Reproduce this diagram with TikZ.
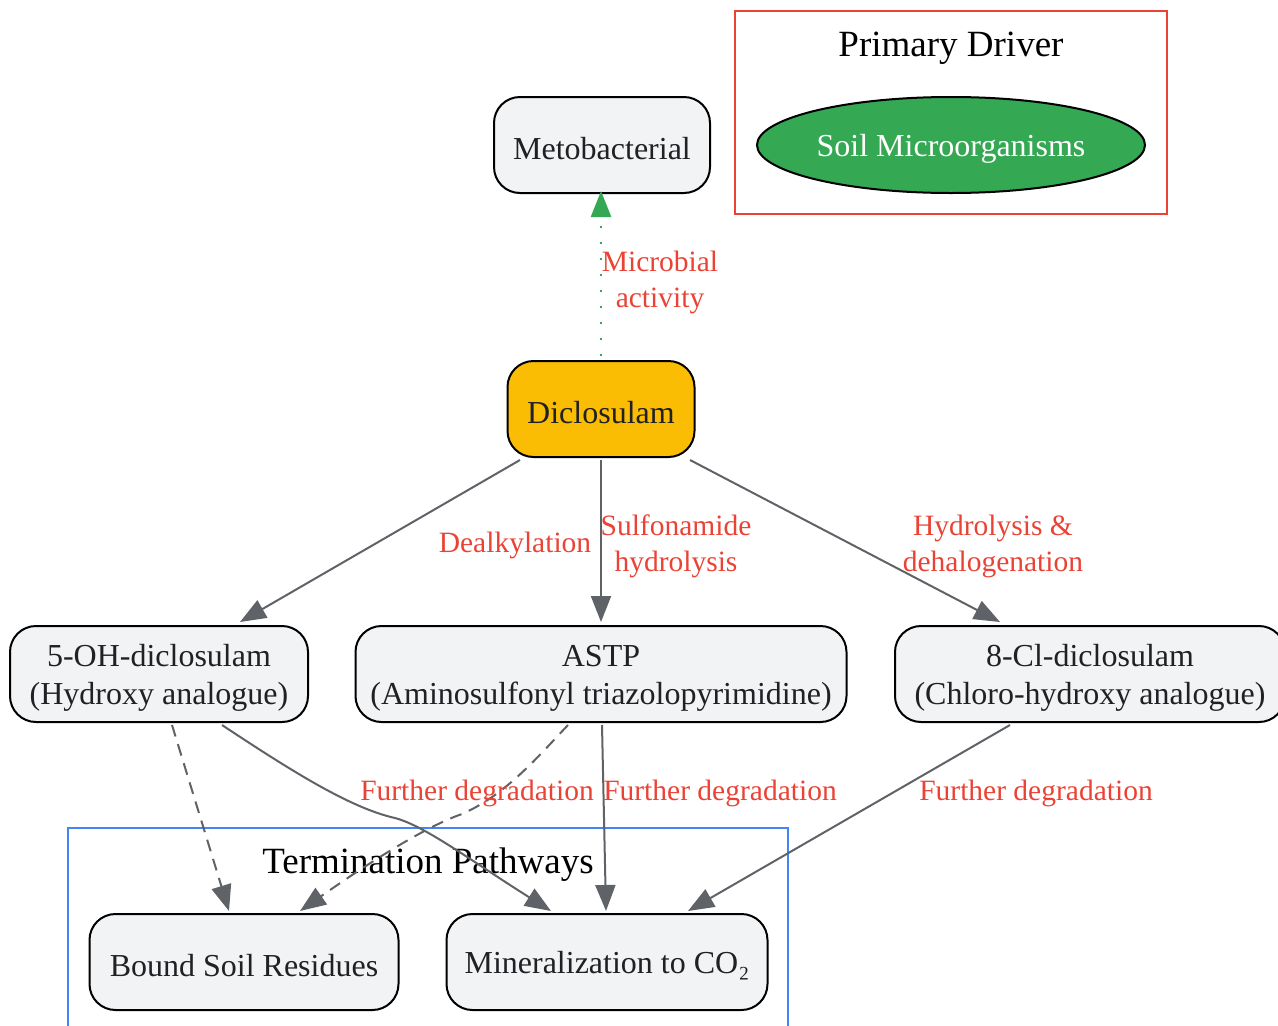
\documentclass[tikz,border=0pt]{standalone}
\usepackage{fontspec}
\setmainfont{Liberation Serif}
\usetikzlibrary{arrows.meta,shapes.geometric,calc}
\definecolor{nodefill}{HTML}{F1F3F4}
\definecolor{txt}{HTML}{202124}
\definecolor{edgec}{HTML}{5F6368}
\definecolor{lblred}{HTML}{EA4335}
\definecolor{gold}{HTML}{FBBC04}
\definecolor{ggreen}{HTML}{34A853}
\definecolor{gblue}{HTML}{4285F4}
\begin{document}
\begin{tikzpicture}[x=1pt,y=-1pt,
  box/.style={draw=black, line width=2pt, rounded corners=26pt, fill=nodefill,
    inner sep=0pt, minimum height=96pt},
  boxtext/.style={text=txt, font=\fontsize{32}{38}\selectfont, align=center, inner sep=0pt, yshift=-4pt},
  lbl/.style={text=lblred, font=\fontsize{29.5}{36}\selectfont, align=center, inner sep=0pt},
  edge/.style={draw=edgec, line width=2pt, -{Triangle[length=26pt,width=20pt]}},
  dashedge/.style={edge, dash pattern=on 12pt off 8pt},
  clustertitle/.style={font=\fontsize{37}{44}\selectfont, text=black, inner sep=0pt},
  cluster/.style={line width=2pt}
]
\useasboundingbox (0,0) rectangle (1278,1026);
% clusters
\draw[cluster, draw=lblred] (735,11) rectangle (1167,214);
\node[clustertitle] (ptitle) at (951,48) {Primary Driver};
\draw[cluster, draw=gblue] (68,828) rectangle (788,1040);
\node[clustertitle] (ttitle) at (428,865) {Termination Pathways};
% nodes
\node[box, minimum width=216pt, label={[boxtext]center:Metobacterial}] (meto) at (602,145) {};
\node[ellipse, draw=black, line width=2pt, fill=ggreen, minimum width=388pt,
  minimum height=96pt, inner sep=0pt,
  label={[boxtext, text=white]center:Soil Microorganisms}] (soil) at (951,145) {};
\node[box, minimum width=187pt, fill=gold, label={[boxtext]center:Diclosulam}] (dic) at (601,409) {};
\node[box, minimum width=298pt, label={[boxtext]center:{5-OH-diclosulam\\(Hydroxy analogue)}}] (oh) at (159,674) {};
\node[box, minimum width=491pt, label={[boxtext]center:{ASTP\\(Aminosulfonyl triazolopyrimidine)}}] (astp) at (601,674) {};
\node[box, minimum width=390pt, label={[boxtext]center:{8-Cl-diclosulam\\(Chloro-hydroxy analogue)}}] (cl) at (1090,674) {};
\node[box, minimum width=309pt, label={[boxtext]center:Bound Soil Residues}] (bound) at (244,962) {};
\node[box, minimum width=321pt, label={[boxtext]center:Mineralization to CO₂}] (mineral) at (607,962) {};
% edges
\draw[ggreen, line width=2.5pt, dash pattern=on 2pt off 14pt, -{Triangle[length=26pt,width=20pt]}]
  ($(dic.north)+(0,-4)$) -- ($(meto.south)+(-1,-3)$);
\node[lbl] (l1) at (660,282) {Microbial\\activity};
\draw[edge] ($(dic.south)+(-81,2)$) -- ($(oh.north)+(81,-3)$);
\node[lbl] (l2) at (515,545) {Dealkylation};
\draw[edge] ($(dic.south)+(0,2)$) -- ($(astp.north)+(0,-3)$);
\node[lbl] (l3) at (676,546) {Sulfonamide\\hydrolysis};
\draw[edge] ($(dic.south)+(89,2)$) -- ($(cl.north)+(-90,-3)$);
\node[lbl] (l4) at (993,546) {Hydrolysis \&\\dehalogenation};
\draw[dashedge] ($(oh.south)+(13,2)$) -- ($(bound.north)+(-15,-2)$);
\draw[edge] ($(oh.south)+(63,2)$) .. controls (290,770) and (350,808) .. (395,818)
  .. controls (425,826) and (470,860) .. ($(mineral.north)+(-56,-2)$);
\draw[dashedge] ($(astp.south)+(-33,2)$) .. controls (535,760) and (505,795) .. (462,814)
  .. controls (430,825) and (380,855) .. ($(bound.north)+(56,-2)$);
\draw[edge] ($(astp.south)+(1,2)$) -- ($(mineral.north)+(-1,-2)$);
\draw[edge] ($(cl.south)+(-80,2)$) -- ($(mineral.north)+(81,-2)$);
\node[lbl] (l5) at (477,793) {Further degradation};
\node[lbl] (l6) at (720,793) {Further degradation};
\node[lbl] (l7) at (1036,793) {Further degradation};
\end{tikzpicture}
\end{document}
